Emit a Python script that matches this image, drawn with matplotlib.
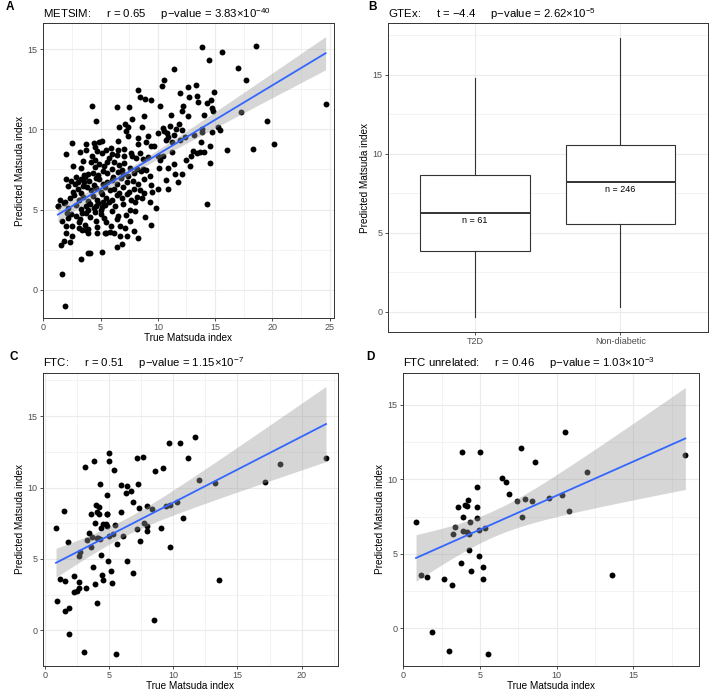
import matplotlib
matplotlib.use("Agg")
import matplotlib.pyplot as plt
from matplotlib.ticker import MultipleLocator
import numpy as np

plt.rcParams["font.family"] = ["Liberation Sans", "DejaVu Sans"]
plt.rcParams["mathtext.fontset"] = "custom"
plt.rcParams["mathtext.rm"] = "Liberation Sans"
plt.rcParams["mathtext.it"] = "Liberation Sans:italic"
plt.rcParams["mathtext.bf"] = "Liberation Sans:bold"

# METSIM: (true, predicted) Matsuda index
metsim_pts = [
    # upper / right part
    (18.55, 15.17), (13.88, 15.1), (15.57, 14.81), (14.43, 14.3), (17.01, 13.81), (11.4, 13.76),
    (17.66, 13.06), (10.58, 13.08), (10.37, 12.72), (13.34, 12.74), (12.6, 12.64), (8.3, 12.43),
    (14.9, 12.34), (11.95, 12.28), (12.72, 12.03), (8.47, 12.0), (8.92, 11.9), (9.36, 11.84),
    (13.45, 12.05), (13.52, 11.73), (14.6, 11.8), (14.27, 11.65), (12.2, 11.44), (10.19, 11.47),
    (4.25, 11.45), (6.44, 11.39), (7.46, 11.4), (24.64, 11.57), (14.72, 11.33), (14.84, 11.15),
    (17.25, 11.05), (12.1, 11.15), (11.15, 10.89), (12.6, 10.86), (14.05, 10.9), (8.75, 10.85),
    (4.62, 10.52), (7.74, 10.64), (6.62, 10.12), (7.1, 10.3), (19.54, 10.5), (11.82, 10.3),
    (11.08, 10.22), (11.55, 10.02), (10.45, 10.1), (8.6, 10.15), (7.42, 10.12), (7.25, 9.92),
    (7.36, 9.6), (8.24, 9.46), (10.58, 9.88), (10.8, 9.8), (11.38, 9.66), (12.1, 9.98),
    (13.12, 9.66), (13.85, 10.02), (13.85, 9.86), (15.24, 10.12), (15.45, 9.97), (14.72, 9.81),
    (9.98, 9.8), (10.86, 9.52), (10.68, 9.35), (9.16, 9.6), (8.96, 9.2), (8.25, 9.1),
    (9.38, 8.93), (9.64, 8.93), (11.2, 9.23), (11.95, 9.35), (12.4, 9.52), (13.8, 9.18),
    (14.53, 8.98), (16.05, 8.73), (18.33, 8.78), (20.1, 9.08), (13.1, 8.68), (13.4, 8.52),
    (13.7, 8.6), (14.05, 8.6), (11.22, 8.56), (10.45, 8.35), (10.2, 8.06), (10.02, 8.31),
    (12.47, 8.1), (12.93, 8.35), (14.53, 7.88), (12.8, 7.72), (11.38, 7.85), (10.9, 7.6),
    (10.08, 7.6), (10.7, 6.86), (11.52, 7.2), (12.08, 7.23), (11.78, 6.7), (10.9, 6.27),
    (10.03, 6.28), (9.5, 6.07), (9.34, 5.5), (9.86, 5.12), (8.85, 4.53), (9.4, 4.06),
    (14.27, 5.36),
    # lower left
    (1.6, 0.98), (1.94, -1.0), (1.52, 2.82), (1.8, 3.03), (2.32, 2.98), (3.3, 1.95),
    (5.13, 2.35), (3.88, 2.3), (4.08, 2.27), (6.45, 2.65), (6.85, 2.86), (2.0, 3.55),
    (2.48, 3.33), (7.3, 3.33), (8.28, 3.22), (6.73, 3.38), (5.35, 3.52), (5.86, 3.6),
    (6.2, 3.57), (7.13, 3.86), (7.9, 3.66), (4.7, 3.56), (4.7, 3.9), (3.42, 3.74),
    (3.72, 3.74), (3.9, 3.82), (3.1, 3.85), (3.9, 3.57), (5.5, 3.57), (5.87, 3.98),
    # left column
    (2.0, 8.44), (2.52, 9.14), (2.02, 6.93), (1.28, 5.2), (1.86, 5.46), (2.09, 4.78),
    (2.2, 4.49), (1.97, 3.99), (1.68, 4.28), (2.55, 3.95), (2.38, 4.74), (3.25, 4.4),
    (3.08, 4.2), (3.68, 4.05), (3.42, 4.78), (3.77, 4.78),
    # dense middle
    (3.74, 9.08), (4.41, 9.14), (5.13, 9.29), (6.53, 9.29), (4.9, 9.2),
    (3.74, 8.73), (4.55, 8.9), (4.7, 8.62), (5.48, 8.73), (5.89, 8.81), (6.53, 8.73),
    (7.05, 8.77), (6.0, 8.48), (5.13, 8.52), (7.66, 8.52), (8.4, 8.55), (3.2, 8.6),
    (4.26, 8.35), (4.55, 8.06), (5.71, 8.2), (6.15, 7.98), (7.02, 8.31), (7.77, 8.31),
    (8.1, 8.2), (8.7, 8.15), (3.5, 8.0), (9.1, 8.3), (6.4, 8.4),
    (4.15, 7.94), (4.84, 7.86), (5.27, 7.69), (6.58, 7.77), (7.02, 7.92), (4.55, 7.65),
    (3.3, 7.6), (6.0, 7.55), (7.6, 7.6), (8.2, 7.55), (8.7, 7.5), (9.0, 7.45), (5.6, 7.95), (2.6, 7.7),
    (3.68, 7.06), (3.54, 7.17), (3.9, 7.2), (4.3, 7.3), (4.8, 7.15), (5.2, 7.4), (5.6, 7.3),
    (6.1, 7.0), (6.5, 7.35), (7.0, 7.2), (7.4, 7.1), (7.9, 7.25), (8.5, 7.4), (6.9, 7.45),
    (2.9, 7.0), (9.3, 7.1),
    (3.05, 6.69), (2.8, 6.6), (3.3, 6.9), (3.6, 6.7), (4.0, 6.8), (4.4, 6.55), (4.9, 6.9),
    (5.2, 6.6), (5.6, 6.7), (6.0, 6.85), (6.4, 6.6), (6.8, 6.95), (7.3, 6.7), (7.8, 6.8),
    (8.3, 6.6), (8.8, 6.9), (9.4, 6.55), (2.4, 6.8), (4.6, 6.95),
    (2.6, 6.1), (3.0, 6.3), (3.3, 6.05), (3.8, 6.4), (4.2, 6.2), (4.6, 6.35), (5.0, 6.1),
    (5.4, 6.4), (5.8, 6.2), (6.2, 6.3), (6.6, 6.05), (7.0, 6.4), (7.5, 6.1), (7.9, 6.3),
    (8.4, 6.2), (8.8, 6.05), (2.2, 6.45), (3.5, 6.5),
    (2.3, 5.7), (2.7, 5.9), (3.1, 5.6), (3.5, 5.8), (3.9, 5.55), (4.3, 5.85), (4.7, 5.6),
    (5.1, 5.95), (5.5, 5.7), (6.0, 5.6), (6.4, 5.9), (6.9, 5.7), (7.3, 5.95), (7.7, 5.6),
    (8.2, 5.8), (8.6, 5.75), (1.5, 5.6),
    (1.31, 5.24), (1.8, 5.4), (2.2, 5.1), (2.9, 5.3), (3.3, 5.05), (3.7, 5.2), (3.9, 4.95),
    (4.1, 5.35), (4.4, 5.1), (4.8, 5.4), (5.1, 5.15), (5.4, 5.3), (5.0, 5.0), (5.7, 5.45),
    (6.3, 5.2), (7.0, 5.35), (7.6, 4.95), (8.0, 5.45), (4.6, 5.25), (5.25, 5.45),
    (2.9, 4.6), (4.1, 4.55), (4.5, 4.85), (5.0, 4.7), (5.3, 4.5), (6.0, 4.9), (6.5, 4.6),
    (7.2, 4.65), (8.0, 4.9),
    (4.6, 4.3), (5.5, 4.2), (6.44, 4.41), (6.7, 4.0), (7.6, 4.3),
]

# FTC
ftc_true = [0.86, 0.96, 1.17, 1.48, 1.58, 1.58, 1.79, 1.84, 1.9, 2.26, 2.26, 2.47, 2.62, 2.68, 2.73,
            2.68, 3.04, 3.14, 3.19, 3.25, 3.4, 3.56, 3.56, 3.66, 3.77, 3.82, 3.87, 3.92, 3.97, 4.03,
            4.08, 4.08, 4.18, 4.23, 4.29, 4.34, 4.34, 4.29, 4.13, 4.44, 4.49, 4.55, 4.75, 4.81, 4.86,
            4.86, 4.86, 4.91, 4.96, 4.96, 5.01, 5.17, 5.22, 5.27, 5.38, 5.48, 5.53, 5.64, 5.95, 5.95,
            6.05, 6.31, 6.42, 6.42, 6.68, 6.88, 6.88, 7.14, 7.19, 7.25, 7.35, 7.4, 7.66, 7.71, 7.92,
            7.92, 7.97, 8.34, 8.49, 8.55, 9.06, 9.17, 9.43, 9.64, 9.74, 9.74, 10.31, 10.52, 10.73,
            11.14, 11.71, 11.97, 13.27, 13.53, 17.17, 18.31, 21.9]
ftc_pred = [7.15, 2.06, 3.63, 8.36, 3.45, 1.37, 6.18, 1.6, -0.23, 3.82, 2.71, 2.75, 2.94, 5.21, 5.49,
            3.36, -1.5, 11.44, 2.94, 6.34, 6.83, 8.17, 5.81, 6.55, 4.42, 11.83, 7.52, 3.26, 8.77, 6.5,
            1.9, 8.26, 8.17, 8.66, 10.23, 5.25, 7.15, 6.41, 6.5, 3.87, 7.43, 3.54, 7.43, 8.17, 9.51,
            8.13, 7.34, 4.84, 6.6, 12.41, 11.83, 4.14, 3.31, 6.74, 11.2, 7.38, -1.64, 6.04, 10.16, 8.26,
            6.64, 9.65, 10.12, 4.84, 9.77, 9.0, 4.05, 7.11, 12.04, 10.21, 8.54, 6.27, 12.13, 7.52, 8.68,
            7.29, 6.97, 8.5, 0.72, 11.16, 7.15, 11.34, 8.73, 13.13, 8.77, 5.81, 8.96, 13.13, 7.85,
            12.04, 13.52, 10.51, 10.3, 3.54, 10.39, 11.64, 12.06]

# FTC unrelated
unrel_true = [0.83, 1.13, 1.54, 1.87, 2.65, 3.0, 3.17, 3.22, 3.39, 3.57, 3.74, 3.83, 3.87, 3.91, 4.04,
              4.13, 4.17, 4.26, 4.22, 4.3, 4.35, 4.43, 4.83, 4.83, 4.83, 4.91, 4.91, 5.0, 5.17, 5.22,
              5.3, 5.54, 6.43, 6.7, 6.91, 7.43, 7.7, 7.74, 7.96, 8.39, 8.57, 9.48, 10.35, 10.57, 10.78,
              12.0, 13.61, 18.39]
unrel_pred = [7.15, 3.61, 3.47, -0.27, 3.34, -1.53, 2.94, 6.35, 6.81, 8.14, 4.4, 11.84, 7.5, 6.53, 8.25,
              8.21, 6.44, 6.31, 8.6, 5.29, 7.15, 3.87, 9.49, 8.16, 7.41, 4.85, 6.57, 11.84, 4.14, 3.3,
              6.75, -1.7, 10.11, 9.8, 9.0, 8.52, 12.12, 7.5, 8.67, 8.52, 11.15, 8.74, 8.94, 13.14, 7.85,
              10.51, 3.56, 11.66]

# GTEx box summaries: whisker low, Q1, median, Q3, whisker high
gtex_groups = ["T2D", "Non-diabetic"]
gtex_n = [61, 246]
gtex_low = [-0.36, 0.32]
gtex_q1 = [3.85, 5.58]
gtex_med = [6.23, 8.2]
gtex_q3 = [8.64, 10.59]
gtex_high = [14.79, 17.33]

GRID = "#EBEBEB"
DARK = "#333333"
SP = "     "   # gap between title parts


def style(ax):
    for sp in ax.spines.values():
        sp.set_color(DARK)
        sp.set_linewidth(0.7)
    ax.grid(which="major", color=GRID, lw=0.8)
    ax.grid(which="minor", color=GRID, lw=0.4)
    ax.set_axisbelow(True)
    ax.tick_params(which="major", length=2.5, width=0.6, color=DARK,
                   labelsize=6.5, labelcolor="#4D4D4D", pad=1.2)
    ax.tick_params(which="minor", length=0)


def scatter_panel(ax, x, y, tcrit):
    x = np.asarray(x, float)
    y = np.asarray(y, float)
    ax.scatter(x, y, s=18, color="black", lw=0, zorder=2)
    b, a = np.polyfit(x, y, 1)
    n = len(x)
    s = np.sqrt(np.sum((y - (a + b * x)) ** 2) / (n - 2))
    sxx = np.sum((x - x.mean()) ** 2)
    xs = np.linspace(x.min(), x.max(), 100)
    yh = a + b * xs
    se = s * np.sqrt(1 / n + (xs - x.mean()) ** 2 / sxx)
    ax.fill_between(xs, yh - tcrit * se, yh + tcrit * se, color="#999999",
                    alpha=0.4, lw=0, zorder=3)
    ax.plot(xs, yh, color="#3366FF", lw=1.3, zorder=4)
    ax.xaxis.set_major_locator(MultipleLocator(5))
    ax.xaxis.set_minor_locator(MultipleLocator(2.5))
    ax.yaxis.set_major_locator(MultipleLocator(5))
    ax.yaxis.set_minor_locator(MultipleLocator(2.5))
    ax.set_xlabel("True Matsuda index", fontsize=7.2, labelpad=0.5)
    ax.set_ylabel("Predicted Matsuda index", fontsize=7.2, labelpad=2)
    style(ax)


fig = plt.figure(figsize=(7.16, 6.94), dpi=100)

axA = fig.add_axes([0.0596, 0.5413, 0.4073, 0.4251])
axB = fig.add_axes([0.5415, 0.5220, 0.4469, 0.4444])
axC = fig.add_axes([0.0596, 0.0400, 0.4129, 0.4230])
axD = fig.add_axes([0.5624, 0.0400, 0.4134, 0.4230])

# A
mx, my = zip(*metsim_pts)
scatter_panel(axA, mx, my, 1.968)
axA.set_xlim(-0.05, 25.4)
axA.set_ylim(-1.77, 16.6)

# B
stats = []
for i in range(2):
    stats.append(dict(whislo=gtex_low[i], q1=gtex_q1[i], med=gtex_med[i],
                      q3=gtex_q3[i], whishi=gtex_high[i], fliers=[]))
axB.bxp(stats, positions=[1, 2], widths=0.75, showfliers=False, patch_artist=True,
        boxprops=dict(facecolor="white", edgecolor=DARK, lw=0.8),
        medianprops=dict(color=DARK, lw=1.4),
        whiskerprops=dict(color=DARK, lw=0.8),
        capprops=dict(lw=0), zorder=2)
for i in range(2):
    axB.text(i + 1, gtex_med[i] - 0.45, f"n = {gtex_n[i]}", ha="center", va="center",
             fontsize=6.5, color="black", zorder=3)
axB.set_xlim(0.4, 2.6)
axB.set_ylim(-1.27, 18.27)
axB.set_xticks([1, 2])
axB.set_xticklabels(gtex_groups)
axB.yaxis.set_major_locator(MultipleLocator(5))
axB.yaxis.set_minor_locator(MultipleLocator(2.5))
axB.set_ylabel("Predicted Matsuda index", fontsize=7.2, labelpad=2)
style(axB)
axB.grid(which="minor", axis="x", visible=False)

# C
scatter_panel(axC, ftc_true, ftc_pred, 1.985)
axC.set_xlim(-0.18, 22.86)
axC.set_ylim(-2.5, 18.03)

# D
scatter_panel(axD, unrel_true, unrel_pred, 2.013)
axD.set_xlim(-0.04, 19.26)
axD.set_ylim(-2.54, 17.15)

titles = [
    (axA, "METSIM:" + SP + "r = 0.65" + SP + "p\u2212value = 3.83\u00d710$^{-40}$"),
    (axB, "GTEx:" + SP + "t = \u22124.4" + SP + "p\u2212value = 2.62\u00d710$^{-5}$"),
    (axC, "FTC:" + SP + "r = 0.51" + SP + "p\u2212value = 1.15\u00d710$^{-7}$"),
    (axD, "FTC unrelated:" + SP + "r = 0.46" + SP + "p\u2212value = 1.03\u00d710$^{-3}$"),
]
for ax, t in titles:
    ax.set_title(t, loc="left", fontsize=8.2, pad=4)

for lab, (px, py) in zip("ABCD", [(6, 7), (368, 7), (10, 357), (366, 357)]):
    fig.text(px / 716, 1 - py / 694, lab, fontsize=8.5, fontweight="bold",
             ha="left", va="center")

fig.savefig("out.png", dpi=100)
